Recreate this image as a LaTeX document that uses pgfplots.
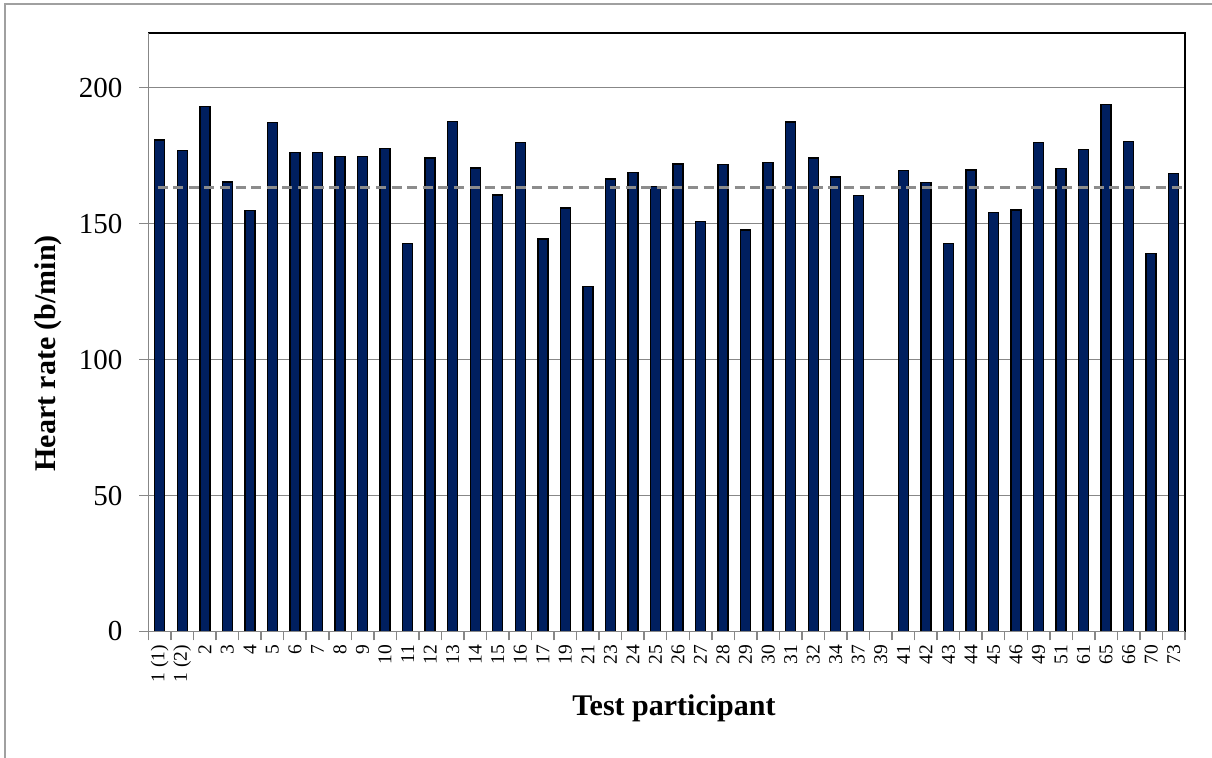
\documentclass[border=0pt]{standalone}
\usepackage{fontspec}
\setmainfont{Liberation Serif}
\usepackage{pgfplots}
\pgfplotsset{compat=1.18}
\definecolor{barblue}{HTML}{001F5F}
\definecolor{gridgray}{HTML}{878787}
\definecolor{meangray}{HTML}{8C8C8C}
\definecolor{framegray}{HTML}{A0A0A0}
\begin{document}
\begin{tikzpicture}
\begin{axis}[
  at={(0,0)}, anchor=south west,
  scale only axis, width=518.25pt, height=299.1pt,
  xmin=-0.5, xmax=45.5, ymin=0, ymax=220,
  axis line style={black, line width=0.9pt},
  ytick={0,50,100,150,200},
  ymajorgrids, grid style={gridgray, line width=0.75pt},
  tick align=outside, xtick pos=bottom, ytick pos=left,
  tick style={gridgray, line width=0.75pt},
  major tick length=4.5pt,
  xtick={-0.5,0.5,...,45.5}, xticklabels={},
  extra x ticks={0,1,...,45},
  extra x tick labels={1 (1),1 (2),2,3,4,5,6,7,8,9,10,11,12,13,14,15,16,17,19,21,23,24,25,26,27,28,29,30,31,32,34,37,39,41,42,43,44,45,46,49,51,61,65,66,70,73},
  extra x tick style={grid=none, major tick length=0pt, tick style={draw=none},
    tick label style={yshift=-6.5pt, rotate=90, anchor=east, inner sep=0pt, font=\fontsize{9.75}{10}\selectfont}},
  yticklabel style={font=\fontsize{14.5}{16}\selectfont, xshift=-5pt},
  /pgf/number format/assume math mode=true,
  xlabel={\textbf{Test participant}},
  ylabel={\textbf{Heart rate (b/min)}},
  xlabel style={font=\fontsize{15}{16}\selectfont, at={(axis description cs:0.507,-0.1279)}, anchor=center},
  ylabel style={font=\fontsize{15}{16}\selectfont, at={(axis description cs:-0.097,0.465)}, anchor=center},
  clip=false,
]
\addplot[ybar, bar width=5pt, fill=barblue, draw=black, line width=0.7pt] coordinates {
(0,180.7) (1,176.9) (2,193.0) (3,165.3) (4,154.9) (5,187.2) (6,176.1) (7,176.1)
(8,174.7) (9,174.7) (10,177.7) (11,142.7) (12,174.2) (13,187.6) (14,170.4) (15,160.5)
(16,179.9) (17,144.4) (18,155.8) (19,126.9) (20,166.4) (21,168.7) (22,163.7) (23,172.0)
(24,150.8) (25,171.8) (26,147.7) (27,172.5) (28,187.4) (29,174.1) (30,167.2) (31,160.4)
(33,169.5) (34,165.2) (35,142.8) (36,169.7) (37,154.1) (38,155.0) (39,179.9)
(40,170.3) (41,177.2) (42,193.7) (43,180.3) (44,139.0) (45,168.5)
};
\addplot[meangray, line width=1.25pt, dash pattern=on 5pt off 2.8pt] coordinates {(-0.1,163.3) (45.45,163.3)};
\draw[gridgray, line width=0.9pt] (rel axis cs:0,1) -- (rel axis cs:0,0) -- (rel axis cs:1,0);
\end{axis}
\draw[framegray, line width=0.9pt] (-71.75pt,-70pt) -- (-71.75pt,313.75pt) -- (540pt,313.75pt);
\pgfresetboundingbox
\path[use as bounding box] (-74.25pt,-63.25pt) rectangle (531.75pt,315.75pt);
\end{tikzpicture}
\end{document}
